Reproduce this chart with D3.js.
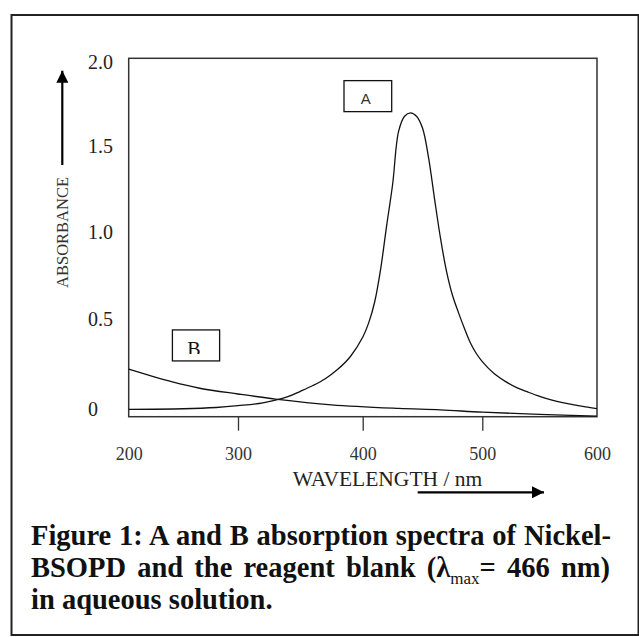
<!DOCTYPE html>
<html>
<head>
<meta charset="utf-8">
<script src="https://cdn.jsdelivr.net/npm/d3@7"></script>
<style>
  body { margin: 0; background: #fff; }
</style>
</head>
<body>
<div id="chart"></div>
<script>
// tick values / labels
const xTicks = [200, 300, 400, 500, 600];
const yTicks = [0, 0.5, 1.0, 1.5, 2.0];
const yTickLabels = ["0", "0.5", "1.0", "1.5", "2.0"];

// curve A : Nickel-BSOPD complex
const wavelengthA = [200, 250, 280, 300, 320, 340, 350, 360, 370, 380, 390, 400, 405, 410, 415, 420, 425, 430, 435, 440,
                     445, 450, 455, 460, 465, 470, 475, 480, 485, 490, 495, 500, 510, 520, 530, 540, 550, 560, 570, 580, 590, 600];
const absorbanceA = [0.0, 0.003, 0.010, 0.020, 0.036, 0.070, 0.100, 0.132, 0.170, 0.222, 0.292, 0.400, 0.480, 0.600, 0.790, 1.040, 1.280, 1.590, 1.680, 1.700,
                     1.680, 1.610, 1.440, 1.200, 0.970, 0.780, 0.640, 0.540, 0.450, 0.370, 0.310, 0.265, 0.200, 0.155, 0.120, 0.095, 0.072, 0.053, 0.037, 0.024, 0.013, 0.004];

// curve B : reagent blank
const wavelengthB = [200, 240, 265, 300, 330, 375, 430, 465, 500, 550, 600];
const absorbanceB = [0.223, 0.152, 0.117, 0.085, 0.057, 0.025, 0.005, -0.003, -0.016, -0.028, -0.038];

const captionLine1 = "Figure 1: A and B absorption spectra of Nickel-";
const captionLine2a = "BSOPD and the reagent blank (";
const captionLine2b = "= 466 nm)";
const captionLine3 = "in aqueous solution.";

const width = 639, height = 637;
const serif = "'Liberation Serif', 'Times New Roman', serif";

const svg = d3.select("#chart").append("svg")
  .attr("width", width)
  .attr("height", height);

// outer frame
svg.append("rect")
  .attr("x", 11.5).attr("y", 15)
  .attr("width", 627).attr("height", 620)
  .attr("fill", "none")
  .attr("stroke", "#222")
  .attr("stroke-width", 2);

// the figure was hand-drawn so tick spacing is a bit uneven
const x = d3.scaleLinear().domain(xTicks).range([128.7, 238, 362.7, 482.3, 597]);
const y = d3.scaleLinear().domain(yTicks).range([409.3, 319.3, 232.7, 146.7, 62]);

const boxTop = 58.3, boxBottom = 416.7;

// plot box
svg.append("rect")
  .attr("x", x(200)).attr("y", boxTop)
  .attr("width", x(600) - x(200)).attr("height", boxBottom - boxTop)
  .attr("fill", "none")
  .attr("stroke", "#333")
  .attr("stroke-width", 1.5);

// x axis
const xAxis = svg.append("g")
  .attr("transform", `translate(0,${boxBottom})`)
  .call(d3.axisBottom(x).tickValues(xTicks).tickSize(14).tickPadding(17).tickFormat(d3.format("d")));
xAxis.select(".domain").remove();
xAxis.selectAll(".tick line")
  .attr("stroke", "#333")
  .attr("stroke-width", 1.3)
  .filter(d => d === 200 || d === 600).remove();
xAxis.selectAll(".tick text")
  .style("font-family", serif)
  .style("font-size", "18px")
  .attr("fill", "#333");

// y tick labels (no tick marks)
svg.selectAll(".ylab")
  .data(yTicks)
  .enter().append("text")
  .attr("class", "ylab")
  .attr("x", 88)
  .attr("y", d => y(d))
  .attr("dy", "0.33em")
  .style("font-family", serif)
  .style("font-size", "20px")
  .attr("fill", "#222")
  .text((d, i) => yTickLabels[i]);

// curves
const line = d3.line()
  .x(d => x(d[0]))
  .y(d => y(d[1]))
  .curve(d3.curveCatmullRom.alpha(0.5));

svg.append("path")
  .datum(wavelengthA.map((w, i) => [w, absorbanceA[i]]))
  .attr("d", line)
  .attr("fill", "none")
  .attr("stroke", "#111")
  .attr("stroke-width", 1.3);

svg.append("path")
  .datum(wavelengthB.map((w, i) => [w, absorbanceB[i]]))
  .attr("d", line)
  .attr("fill", "none")
  .attr("stroke", "#111")
  .attr("stroke-width", 1.3);

// label boxes
const boxA = { x: x(385), y: y(1.89), w: 47.7, h: 31 };
svg.append("rect")
  .attr("x", boxA.x).attr("y", boxA.y)
  .attr("width", boxA.w).attr("height", boxA.h)
  .attr("fill", "#fff").attr("stroke", "#111").attr("stroke-width", 1.3);
svg.append("text")
  .attr("x", boxA.x + boxA.w / 2 - 2)
  .attr("y", boxA.y + 23.5)
  .attr("text-anchor", "middle")
  .style("font-family", "'Liberation Sans', Arial, sans-serif")
  .style("font-size", "15px")
  .attr("fill", "#333")
  .text("A");

const boxB = { x: x(240), y: y(0.441), w: 47.2, h: 31 };
svg.append("clipPath").attr("id", "clipB")
  .append("rect")
  .attr("x", boxB.x).attr("y", boxB.y)
  .attr("width", boxB.w).attr("height", 24);
svg.append("rect")
  .attr("x", boxB.x).attr("y", boxB.y)
  .attr("width", boxB.w).attr("height", boxB.h)
  .attr("fill", "#fff").attr("stroke", "#111").attr("stroke-width", 1.3);
svg.append("text")
  .attr("clip-path", "url(#clipB)")
  .attr("x", boxB.x + boxB.w / 2 - 2)
  .attr("y", boxB.y + 26)
  .attr("text-anchor", "middle")
  .style("font-family", serif)
  .style("font-size", "20px")
  .attr("fill", "#111")
  .text("B");

// axis titles
svg.append("text")
  .attr("transform", "translate(68.3,232.5) rotate(-90)")
  .attr("text-anchor", "middle")
  .style("font-family", serif)
  .style("font-size", "16.5px")
  .attr("fill", "#333")
  .text("ABSORBANCE");

svg.append("text")
  .attr("x", 387.5)
  .attr("y", 486)
  .attr("text-anchor", "middle")
  .style("font-family", serif)
  .style("font-size", "21.5px")
  .attr("fill", "#222")
  .text("WAVELENGTH / nm");

// arrows
svg.append("defs").append("marker")
  .attr("id", "arrow")
  .attr("viewBox", "0 0 12 12")
  .attr("refX", 12).attr("refY", 6)
  .attr("markerWidth", 12).attr("markerHeight", 12)
  .attr("markerUnits", "userSpaceOnUse")
  .attr("orient", "auto")
  .append("path")
  .attr("d", "M0,0 L12,6 L0,12 Z")
  .attr("fill", "#000");

svg.append("line")
  .attr("x1", 62.3).attr("y1", 165)
  .attr("x2", 62.3).attr("y2", 70.7)
  .attr("stroke", "#000").attr("stroke-width", 2.2)
  .attr("marker-end", "url(#arrow)");

svg.append("line")
  .attr("x1", 417.7).attr("y1", 492.3)
  .attr("x2", 544).attr("y2", 492.3)
  .attr("stroke", "#000").attr("stroke-width", 2.2)
  .attr("marker-end", "url(#arrow)");

// caption
const cap = svg.append("g")
  .style("font-family", serif)
  .style("font-weight", "bold")
  .style("font-size", "28.5px")
  .attr("fill", "#111");

const c1 = cap.append("text").attr("x", 31).attr("y", 545).text(captionLine1);

const c2 = cap.append("text").attr("x", 31).attr("y", 577);
c2.append("tspan").text(captionLine2a);
c2.append("tspan").text("\u03BB");
c2.append("tspan")
  .attr("dy", 7)
  .style("font-size", "17px")
  .style("font-weight", "normal")
  .text("max");
c2.append("tspan").attr("dy", -7).text(captionLine2b);

cap.append("text").attr("x", 31).attr("y", 609).text(captionLine3);

// stretch the justified lines with word spacing
function justify(sel, target) {
  const w = sel.node().getBBox().width;
  const spaces = (sel.text().match(/ /g) || []).length;
  if (spaces > 0) sel.style("word-spacing", ((target - w) / spaces) + "px");
}
justify(c1, 580);
justify(c2, 579);
</script>
</body>
</html>
